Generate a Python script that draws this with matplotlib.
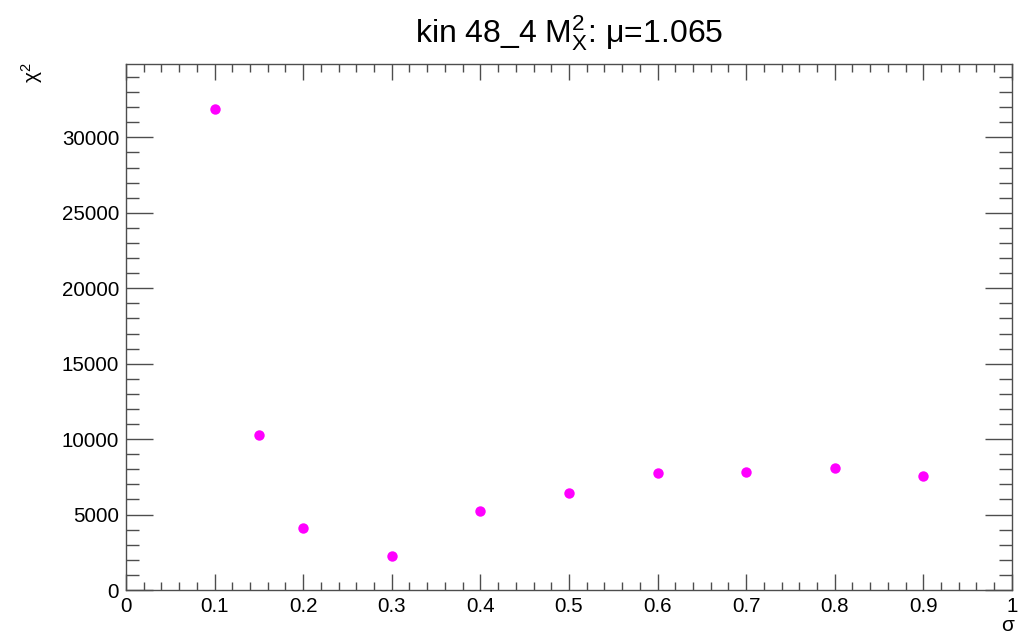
import numpy as np
import matplotlib
matplotlib.use('Agg')
import matplotlib.pyplot as plt
from matplotlib.ticker import MultipleLocator

plt.rcParams['font.family'] = ['Liberation Sans', 'DejaVu Sans']
plt.rcParams['mathtext.fontset'] = 'custom'
plt.rcParams['mathtext.rm'] = 'Liberation Sans'
plt.rcParams['mathtext.it'] = 'Liberation Sans:italic'
plt.rcParams['mathtext.default'] = 'regular'

# chi2 scan over sigma
sigma = [0.1, 0.15, 0.2, 0.3, 0.4, 0.5, 0.6, 0.7, 0.8, 0.9]
chi2 = [31900, 10290, 4090, 2250, 5215, 6430, 7730, 7800, 8105, 7575]

fig = plt.figure(figsize=(10.22, 6.33), dpi=100)
ax = fig.add_axes([0.1233, 0.0679, 0.8668, 0.8305])

ax.plot(sigma, chi2, 'o', color='#ff00ff', markersize=7.5, markeredgewidth=0)

ax.set_xlim(0, 1)
ax.set_ylim(0, 34840)
ax.xaxis.set_minor_locator(MultipleLocator(0.02))
ax.yaxis.set_major_locator(MultipleLocator(5000))
ax.yaxis.set_minor_locator(MultipleLocator(1000))
ax.set_xticks(np.arange(0, 1.01, 0.1))
ax.set_xticklabels(['0', '0.1', '0.2', '0.3', '0.4', '0.5', '0.6', '0.7', '0.8', '0.9', '1'])

ax.tick_params(axis='both', which='both', direction='in', top=True, right=True,
               color='#4d4d4d', width=1.0, labelsize=14.8)
ax.tick_params(axis='x', which='major', length=11.5, pad=5)
ax.tick_params(axis='x', which='minor', length=5.8)
ax.tick_params(axis='y', which='major', length=19.5, pad=5)
ax.tick_params(axis='y', which='minor', length=9.5)
for s in ax.spines.values():
    s.set_color('#4d4d4d')
    s.set_linewidth(1.0)

fig.text(0.557, 0.948, r'kin 48_4 $M_X^2$: μ=1.065', ha='center', va='center', fontsize=23)
fig.text(0.031, 0.885, r'$\chi^2$', rotation=90, ha='center', va='center', fontsize=15)
fig.text(0.986, 0.012, 'σ', ha='center', va='center', fontsize=15)

fig.savefig('out.png', dpi=100)
